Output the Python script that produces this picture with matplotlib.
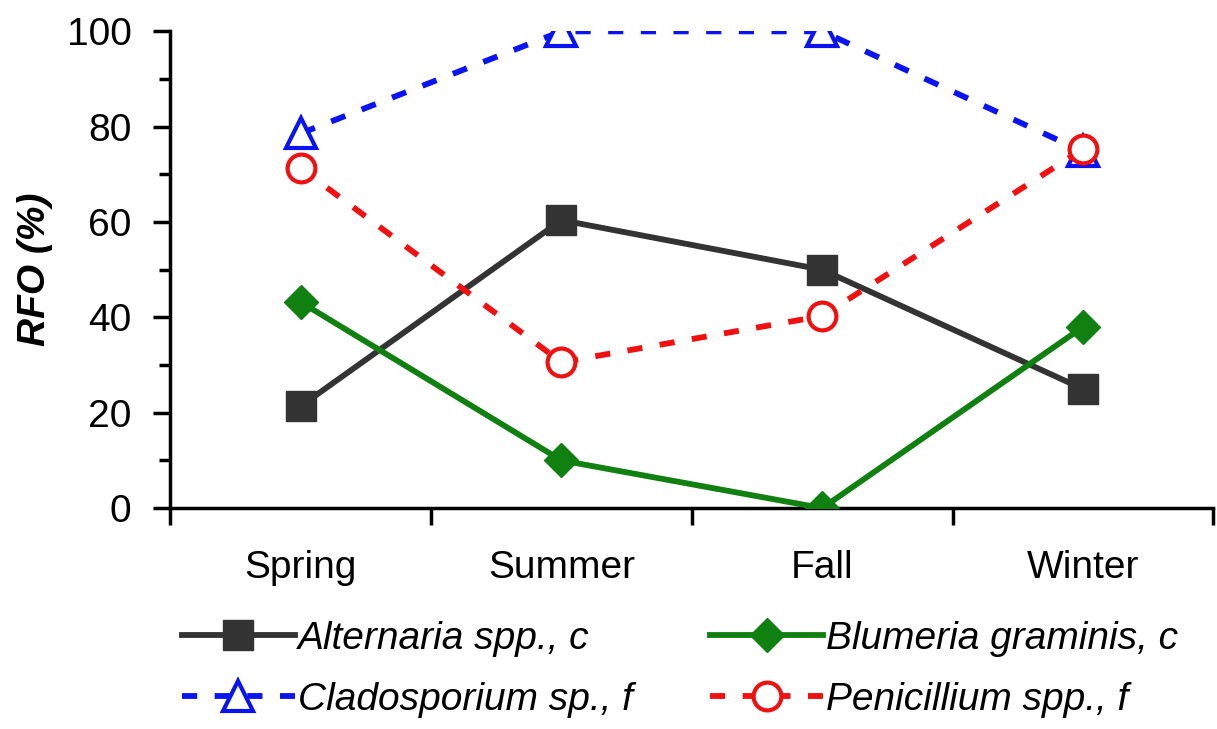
import matplotlib.pyplot as plt
import numpy as np

seasons = ["Spring", "Summer", "Fall", "Winter"]
alternaria = [21.4, 60.4, 50.0, 25.0]
blumeria = [43.2, 10.0, 0.0, 38.0]
cladosporium = [78.6, 100.0, 100.0, 74.8]
penicillium = [71.3, 30.6, 40.3, 75.3]

plt.rcParams['font.family'] = ['Liberation Sans', 'DejaVu Sans']

fig = plt.figure(figsize=(12.17, 7.29), dpi=100)
ax = fig.add_axes([0.14, 0.303, 0.857, 0.654])

x = np.arange(len(seasons))
dash = (0, (2.6, 3.0))
l1, = ax.plot(x, alternaria, color='#333333', lw=4.2, marker='s', ms=21,
              mfc='#333333', mec='#333333', label='Alternaria spp., c', zorder=3)
l2, = ax.plot(x, blumeria, color='#108010', lw=4.2, marker='D', ms=17,
              mfc='#108010', mec='#108010', label='Blumeria graminis, c', zorder=3)
l3, = ax.plot(x, cladosporium, color='#0a14f0', lw=4.2, ls=dash, marker='^', ms=21,
              mfc='white', mec='#0a14f0', mew=3, label='Cladosporium sp., f', zorder=2)
l4, = ax.plot(x, penicillium, color='#f01010', lw=4.2, ls=dash, marker='o', ms=20,
              mfc='white', mec='#f01010', mew=3, label='Penicillium spp., f', zorder=4)

ax.set_xlim(-0.5, 3.5)
ax.set_ylim(0, 100)
ax.set_xticks(np.arange(-0.5, 4.0, 1.0))
ax.set_xticklabels([])
ax.set_xticks(x, minor=True)
ax.set_xticklabels(seasons, minor=True, fontsize=28)
ax.tick_params(axis='x', which='major', direction='out', length=12, width=2.5)
ax.tick_params(axis='x', which='minor', length=0, pad=30)
ax.set_yticks(np.arange(0, 101, 20))
ax.set_yticks(np.arange(10, 100, 20), minor=True)
ax.tick_params(axis='y', which='major', direction='out', length=12, width=2.5,
               labelsize=28, pad=16)
ax.tick_params(axis='y', which='minor', direction='out', length=8, width=2.5)
for sp in ['top', 'right']:
    ax.spines[sp].set_visible(False)
ax.spines['left'].set_linewidth(2.5)
ax.spines['bottom'].set_linewidth(2.5)
ax.set_ylabel('RFO (%)', fontsize=28, fontweight='bold', fontstyle='italic', labelpad=10)

fig.legend([l1, l3, l2, l4], [l.get_label() for l in (l1, l3, l2, l4)],
           loc='lower left', bbox_to_anchor=(0.127, -0.022), ncol=2, frameon=False,
           prop={'size': 28, 'style': 'italic'}, handlelength=2.9,
           handletextpad=0.08, columnspacing=2.0, labelspacing=0.65,
           borderaxespad=0.3)

fig.savefig('out.png', dpi=100)
